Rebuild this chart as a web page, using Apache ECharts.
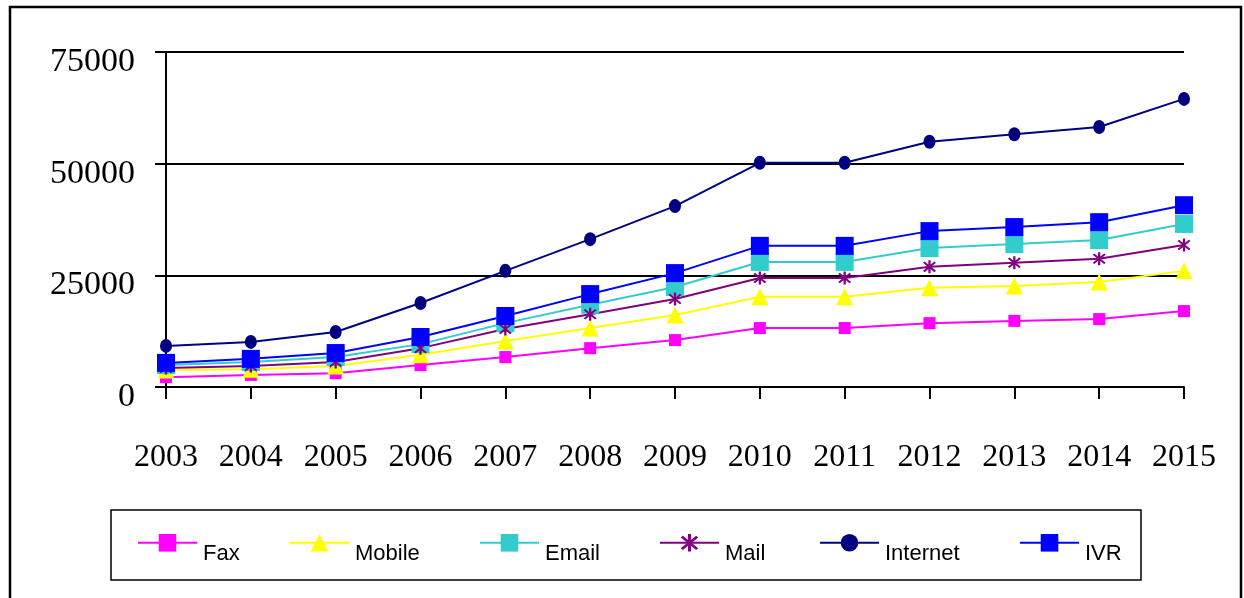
<!DOCTYPE html>
<html>
<head>
<meta charset="utf-8">
<script src="https://cdn.jsdelivr.net/npm/echarts@6/dist/echarts.min.js"></script>
<style>html,body{margin:0;padding:0;background:#fff}#c{width:1244px;height:598px}</style>
</head>
<body>
<div id="c"></div>
<script>
const years = ['2003','2004','2005','2006','2007','2008','2009','2010','2011','2012','2013','2014','2015'];
const yTicks = [0, 25000, 50000, 75000];
const fax      = [2200, 2700, 3100, 4900, 6700, 8700, 10500, 13200, 13200, 14300, 14800, 15200, 17000];
const mobile   = [3800, 4000, 4700, 7200, 10300, 13200, 16100, 20200, 20200, 22200, 22600, 23500, 26000];
const email    = [4900, 5600, 6700, 9600, 14300, 18400, 22400, 28000, 28000, 31100, 32000, 32900, 36500];
const mail     = [4250, 4700, 5600, 8700, 13000, 16300, 19700, 24400, 24400, 26900, 27800, 28700, 31800];
const internet = [9200, 10100, 12300, 18800, 26000, 33100, 40500, 50200, 50200, 54900, 56600, 58200, 64500];
const ivr      = [5400, 6300, 7600, 11200, 15900, 20800, 25500, 31600, 31600, 34900, 35800, 36900, 40700];

const asterisk = 'path://M-1,-7L1,-7L1,7L-1,7Z M-5.7,-4.3L-4.3,-5.7L5.7,4.3L4.3,5.7Z M-4.3,5.7L-5.7,4.3L4.3,-5.7L5.7,-4.3Z';

const seriesDefs = [
  {name:'Fax', data:fax, color:'#FF00FF', symbol:'rect', size:12},
  {name:'Mobile', data:mobile, color:'#FFFF00', symbol:'triangle', size:17},
  {name:'Email', data:email, color:'#33CCCC', symbol:'rect', size:18},
  {name:'Mail', data:mail, color:'#800080', symbol:asterisk, size:13},
  {name:'Internet', data:internet, color:'#000080', symbol:'circle', size:[12,14]},
  {name:'IVR', data:ivr, color:'#0000FF', symbol:'rect', size:18}
];
const legendLeft = [137, 289, 479, 659, 819, 1019];
const serifFont = 'Liberation Serif';
const sansFont = 'Liberation Sans';

const chart = echarts.init(document.getElementById('c'), null, {renderer:'canvas'});
const option = {
  backgroundColor:'#fff',
  animation:false,
  grid:{left:166, right:60, top:52, bottom:211, containLabel:false},
  xAxis:{
    type:'category', data:years, boundaryGap:false,
    axisLine:{lineStyle:{color:'#000', width:2}},
    axisTick:{show:true, length:12, inside:false, lineStyle:{color:'#000', width:2}},
    axisLabel:{color:'#000', fontFamily:serifFont, fontSize:32, margin:55, interval:0},
    splitLine:{show:false}
  },
  yAxis:{
    type:'value', min:yTicks[0], max:yTicks[yTicks.length-1], interval:25000,
    axisLine:{show:true, lineStyle:{color:'#000', width:2}},
    axisTick:{show:true, length:11, lineStyle:{color:'#000', width:2}},
    axisLabel:{color:'#000', fontFamily:serifFont, fontSize:34, margin:31,
      verticalAlign:'top', lineHeight:20, formatter:(v)=>String(v)},
    splitLine:{show:true, lineStyle:{color:'#000', width:2}}
  },
  legend: seriesDefs.map((s,i)=>({
    data:[s.name], left:legendLeft[i], top:534, orient:'horizontal', padding:0,
    itemWidth:59, itemHeight:22, itemGap:8,
    formatter:'{t|{name}}',
    textStyle:{fontFamily:sansFont, fontSize:22, color:'#000',
      rich:{t:{fontFamily:sansFont, fontSize:22, color:'#000', padding:[22,0,0,1]}}},
    selectedMode:false
  })),
  graphic:[
    {type:'rect', shape:{x:10, y:7, width:1231, height:620}, style:{fill:'none', stroke:'#000', lineWidth:2.5}, z:-1},
    {type:'rect', shape:{x:111, y:510, width:1030, height:70}, style:{fill:'none', stroke:'#000', lineWidth:1.5}, z:-1}
  ],
  series: seriesDefs.map(s=>({
    name:s.name, type:'line', data:s.data,
    symbol:s.symbol, symbolSize:s.size, showSymbol:true,
    lineStyle:{color:s.color, width:2},
    itemStyle:{color:s.color, borderWidth:0},
    emphasis:{disabled:true}
  }))
};
chart.setOption(option);
</script>
</body>
</html>
